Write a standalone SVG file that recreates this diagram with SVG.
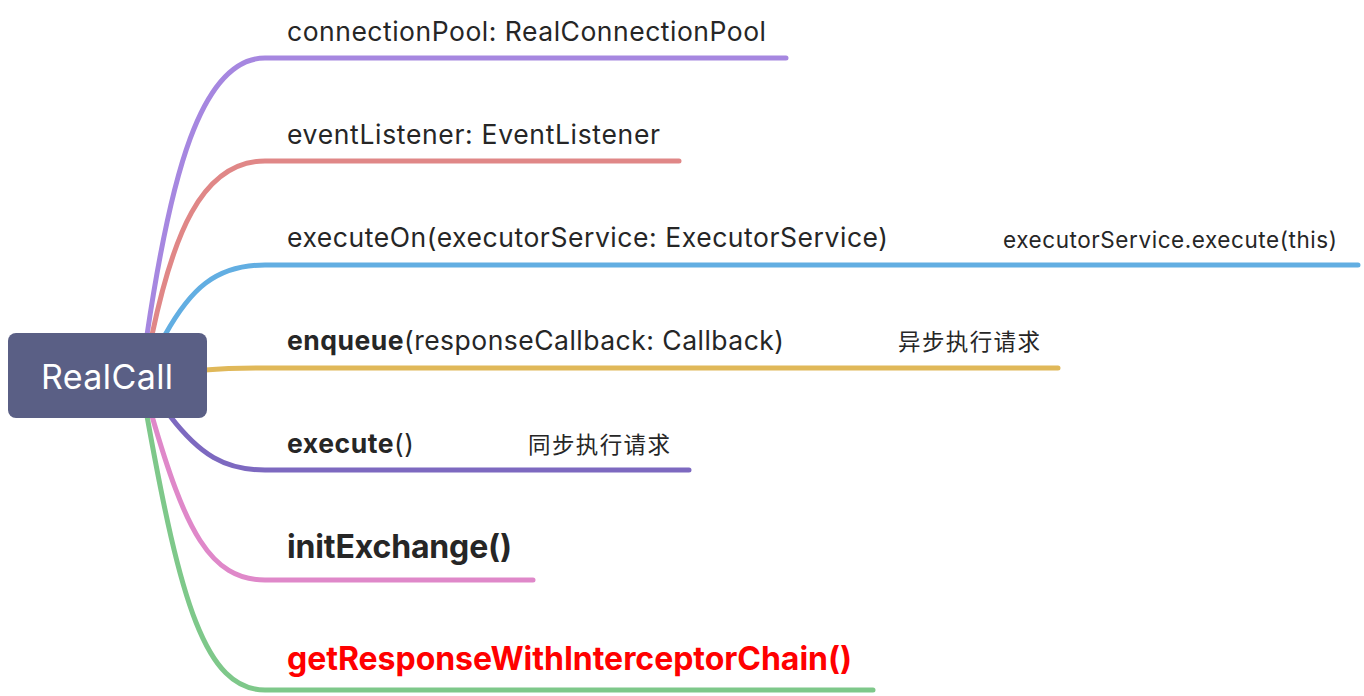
<svg xmlns="http://www.w3.org/2000/svg" width="1364" height="696" viewBox="0 0 1364 696">
<style>
.t{font-family:Inter,"Noto Sans CJK SC",sans-serif;font-size:26.5px;fill:#262626}
.b{font-weight:bold}
.s{font-family:Inter,"Noto Sans CJK SC",sans-serif;font-size:22.5px;fill:#262626}
.c{fill:none;stroke-width:5;stroke-linecap:round}
</style>
<rect width="1364" height="696" fill="#ffffff"/>
<g id="connectors">
<path class="c" stroke="#a687e0" d="M147,335 C170,180 200,58 265,58 H786"/>
<path class="c" stroke="#e08787" d="M152,335 C172,240 200,161 265,161 H679"/>
<path class="c" stroke="#62aee2" d="M165,335 C190,290 215,265 265,265 H1358"/>
<path class="c" stroke="#e0b859" d="M205,370 C230,368 240,368 265,368 H1058"/>
<path class="c" stroke="#7d69c0" d="M170,416 C200,455 225,470 265,470 H689"/>
<path class="c" stroke="#df88c9" d="M152,416 C185,530 210,580 265,580 H533"/>
<path class="c" stroke="#7ec88a" d="M147,416 C180,600 205,690 265,690 H873"/>
</g>
<g id="root">
<rect x="8" y="333" width="199" height="85" rx="8" fill="#5a5f85"/>
<text x="107" y="389" text-anchor="middle" font-family="Inter,sans-serif" font-size="34" textLength="132" fill="#ffffff">RealCall</text>
</g>
<g id="n1"><text class="t" x="287" y="41" textLength="479">connectionPool: RealConnectionPool</text></g>
<g id="n2"><text class="t" x="287" y="144" textLength="373">eventListener: EventListener</text></g>
<g id="n3"><text class="t" x="287" y="247" textLength="601">executeOn(executorService: ExecutorService)</text>
<text class="s" x="1003" y="248" textLength="334">executorService.execute(this)</text></g>
<g id="n4"><text class="t" x="287" y="350" textLength="497"><tspan class="b">enqueue</tspan>(responseCallback: Callback)</text>
<text class="s" x="898" y="350" textLength="142">异步执行请求</text></g>
<g id="n5"><text class="t" x="287" y="453" textLength="127"><tspan class="b">execute</tspan>()</text>
<text class="s" x="528" y="453" textLength="142">同步执行请求</text></g>
<g id="n6"><text class="t b" x="287" y="558" style="font-size:32px" textLength="225">initExchange()</text></g>
<g id="n7"><text class="t b" x="287" y="670" style="font-size:32px;fill:#ff0000" textLength="565">getResponseWithInterceptorChain()</text></g>
</svg>
